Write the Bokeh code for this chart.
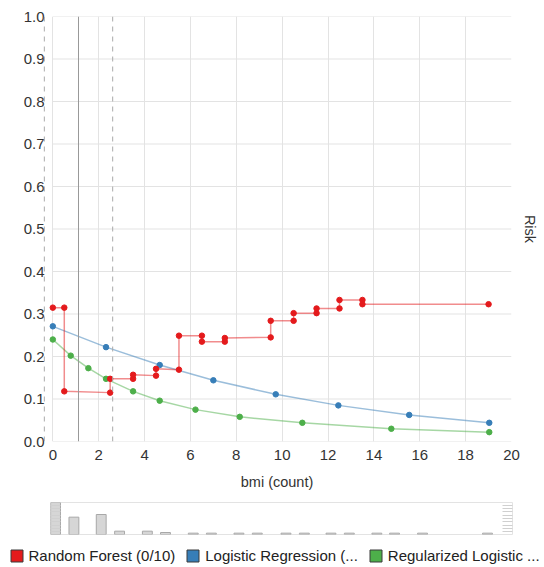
import numpy as np
from bokeh.plotting import figure
from bokeh.models import (Span, LinearAxis, FixedTicker, Legend, LegendItem,
                          Range1d, PrintfTickFormatter, ColumnDataSource)
from bokeh.layouts import column
from bokeh.embed import file_html
from bokeh.resources import INLINE

# ---------------- data ----------------
# Random Forest step curve: x positions, value arriving (left) and leaving (right)
rf_x = [0.0, 0.5, 2.5, 3.5, 4.5, 5.5, 6.5, 7.5, 9.5, 10.5, 11.5, 12.5, 13.5, 19.0]
rf_left = [0.315, 0.315, 0.115, 0.1475, 0.155, 0.169, 0.249, 0.235, 0.245, 0.284, 0.302, 0.313, 0.333, 0.323]
rf_right = [0.315, 0.118, 0.1475, 0.157, 0.171, 0.249, 0.235, 0.2435, 0.284, 0.302, 0.313, 0.333, 0.323, 0.323]

lr_x = [0.0, 2.32, 4.66, 7.0, 9.72, 12.45, 15.54, 19.03]
lr_y = [0.271, 0.222, 0.180, 0.144, 0.111, 0.085, 0.0625, 0.044]

rl_x = [0.0, 0.78, 1.55, 2.32, 3.5, 4.66, 6.22, 8.15, 10.88, 14.76, 19.03]
rl_y = [0.240, 0.202, 0.1725, 0.1475, 0.118, 0.096, 0.075, 0.058, 0.044, 0.030, 0.022]

bmi_mean = 1.12
bmi_sd = 1.49

hist_x = [0.13, 0.93, 2.12, 2.92, 4.13, 4.92, 6.13, 6.92, 8.12, 8.92,
          10.17, 10.97, 12.13, 12.93, 14.13, 14.9, 16.12, 18.95]
hist_counts = [48, 26, 30, 5, 5, 3, 2, 2, 2, 2, 2, 2, 2, 2, 2, 2, 2, 2]

x_ticks = [0, 2, 4, 6, 8, 10, 12, 14, 16, 18, 20]
y_ticks = [0.0, 0.1, 0.2, 0.3, 0.4, 0.5, 0.6, 0.7, 0.8, 0.9, 1.0]

series_labels = ["Random Forest (0/10)", "Logistic Regression (...", "Regularized Logistic ..."]
series_colors = ["#e41a1c", "#377eb8", "#4daf4a"]

FONT = "Liberation Sans"
TXT = "#333333"
GRID = "#e3e3e3"

# ---------------- main chart ----------------
p = figure(width=544, height=492, x_range=Range1d(-0.45, 20), y_range=Range1d(0, 1),
           output_backend="svg", toolbar_location=None, frame_align=False,
           min_border_left=42, min_border_right=33, min_border_top=16, min_border_bottom=49)
p.outline_line_color = None
p.background_fill_color = "white"
p.border_fill_color = "white"

p.xaxis.ticker = FixedTicker(ticks=x_ticks)
p.yaxis.ticker = FixedTicker(ticks=y_ticks)
p.yaxis.formatter = PrintfTickFormatter(format="%.1f")
p.xgrid.ticker = FixedTicker(ticks=x_ticks)
p.xgrid.grid_line_color = GRID
p.ygrid.visible = False
# horizontal grid lines limited to the 0..20 span
p.segment(x0=[x_ticks[0]] * len(y_ticks), x1=[x_ticks[-1]] * len(y_ticks),
          y0=y_ticks, y1=y_ticks, line_color=GRID, line_width=1, level="underlay")

for ax in (p.xaxis, p.yaxis):
    ax.axis_line_color = None
    ax.major_tick_line_color = None
    ax.minor_tick_line_color = None
    ax.major_label_text_font = FONT
    ax.major_label_text_font_size = "15px"
    ax.major_label_text_color = TXT
    ax.axis_label_text_font = FONT
    ax.axis_label_text_font_size = "14.5px"
    ax.axis_label_text_font_style = "normal"
    ax.axis_label_text_color = TXT
p.yaxis.major_label_standoff = -8
p.xaxis.major_label_standoff = 2
p.xaxis.axis_label = "bmi (count)"
p.xaxis.axis_label_standoff = 11

right = LinearAxis(axis_label="Risk", ticker=FixedTicker(ticks=[]))
right.axis_line_color = None
right.major_tick_line_color = None
right.minor_tick_line_color = None
right.major_label_text_color = None
right.axis_label_text_font = FONT
right.axis_label_text_font_size = "14.5px"
right.axis_label_text_font_style = "normal"
right.axis_label_text_color = TXT
right.axis_label_standoff = 10
p.add_layout(right, "right")

# mean / sd reference lines
p.add_layout(Span(location=bmi_mean, dimension="height", line_color="#999999", line_width=1))
p.add_layout(Span(location=bmi_mean - bmi_sd, dimension="height", line_color="#aaaaaa",
                  line_width=1, line_dash="5 5"))
p.add_layout(Span(location=bmi_mean + bmi_sd, dimension="height", line_color="#aaaaaa",
                  line_width=1, line_dash="5 5"))

# random forest step path
px, py = [rf_x[0]], [rf_right[0]]
for i in range(1, len(rf_x)):
    px.append(rf_x[i]); py.append(rf_left[i])
    if i < len(rf_x) - 1:
        px.append(rf_x[i]); py.append(rf_right[i])

p.line(lr_x, lr_y, line_color=series_colors[1], line_width=1.5, line_alpha=0.5)
p.scatter(lr_x, lr_y, size=5.5, fill_color=series_colors[1], line_color=series_colors[1])
p.line(rl_x, rl_y, line_color=series_colors[2], line_width=1.5, line_alpha=0.5)
p.scatter(rl_x, rl_y, size=5.5, fill_color=series_colors[2], line_color=series_colors[2])
p.line(px, py, line_color=series_colors[0], line_width=1.5, line_alpha=0.5)
p.scatter(px, py, size=5.5, fill_color=series_colors[0], line_color=series_colors[0])

# ---------------- histogram ----------------
h = figure(width=544, height=48, x_range=Range1d(-0.09, 20.04), y_range=Range1d(0, max(hist_counts)),
           output_backend="svg", toolbar_location=None, frame_align=False,
           x_axis_location=None, y_axis_location=None,
           min_border_left=50, min_border_right=32, min_border_top=10, min_border_bottom=6)
h.outline_line_color = GRID
h.grid.visible = False
h.vbar(x=hist_x, top=hist_counts, width=0.43, fill_color="#d6d6d6", line_color="#a8a8a8", line_width=1)

handle_ticks = list(np.linspace(4, 44, 9))
for side in ("left", "right"):
    ax = LinearAxis(ticker=FixedTicker(ticks=handle_ticks))
    ax.axis_line_color = None
    ax.major_label_text_color = None
    ax.major_tick_line_color = "#d0d0d0"
    ax.major_tick_in = 10
    ax.major_tick_out = 0
    ax.minor_tick_line_color = None
    h.add_layout(ax, side)

# ---------------- legend strip ----------------
lg = figure(width=544, height=27, x_range=Range1d(0, 544), y_range=Range1d(0, 27),
            output_backend="svg", toolbar_location=None, frame_align=False,
            x_axis_location=None, y_axis_location=None,
            min_border_left=0, min_border_right=0, min_border_top=0, min_border_bottom=0)
lg.outline_line_color = None
lg.grid.visible = False
items = []
for lab, col in zip(series_labels, series_colors):
    # legend swatch renderer; its single point sits outside the visible range
    src = ColumnDataSource(dict(x=[-1000], y=[-1000]))
    r = lg.rect(x="x", y="y", width=1, height=1, source=src, fill_color=col, line_color="#3a3a3a")
    items.append(LegendItem(label=lab, renderers=[r]))

leg = Legend(items=items, orientation="horizontal", location=(8.5, 3.5),
             glyph_width=15, glyph_height=15, label_height=15, padding=0, margin=0,
             spacing=10, label_standoff=5, border_line_color=None, background_fill_alpha=0,
             label_text_font=FONT, label_text_font_size="15px", label_text_color="#222222")
lg.add_layout(leg, "center")

layout = column(p, h, lg)
open("out.html", "w").write(file_html(layout, INLINE))
